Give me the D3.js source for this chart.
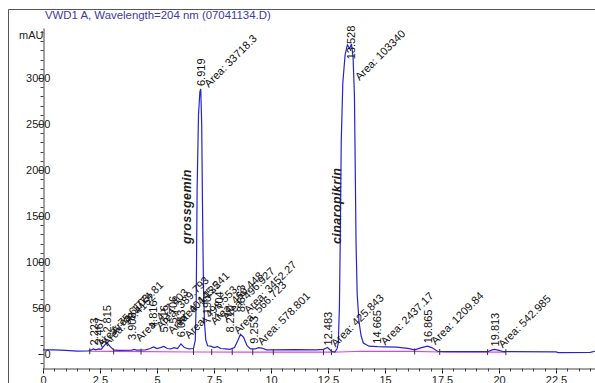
<!DOCTYPE html>
<html>
  <head>
    <meta charset='utf-8'>
    <script src="https://d3js.org/d3.v7.min.js"></script>
    <title>VWD1 A chromatogram</title>
    <style>
      body { margin: 0; background: #fff; }
      text { font-family: "Liberation Sans", Arial, sans-serif; }
    </style>
  </head>
  <body>
    <div id='chartDIV'></div>
    <script>

  // signal trace: time (min) / mAU
  var sigTime = [0, 0.5, 1.0, 1.5, 2.0, 2.15, 2.22, 2.3, 2.45, 2.55, 2.65, 2.8, 2.95, 3.1, 3.3, 3.9, 4.0, 4.1, 4.5, 4.7, 4.85, 5.0, 5.15, 5.3, 5.45, 5.6, 5.75, 5.9, 6.05, 6.2, 6.4, 6.6,
    6.68, 6.72, 6.76, 6.82, 6.88, 6.919, 6.96, 7.0, 7.04, 7.08, 7.14, 7.22, 7.35, 7.5, 7.65, 7.8, 8.0, 8.2, 8.4, 8.55, 8.66, 8.8, 8.95, 9.1, 9.3, 9.45, 9.6, 9.8, 10.0, 11.0, 12.0, 12.3, 12.48, 12.65, 12.8, 12.9,
    12.95, 13.0, 13.04, 13.08, 13.15, 13.25, 13.35, 13.45, 13.528, 13.6, 13.66, 13.7, 13.73, 13.78, 13.86, 13.95, 14.05, 14.3, 14.665, 15.0, 15.5, 16.0, 16.3, 16.6, 16.865, 17.05, 17.3, 17.6, 19.5, 19.7, 19.813, 20.0, 20.2, 22.5, 22.6, 24.0, 24.21];
  var sigValue = [45, 44, 40, 32, 35, 48, 55, 45, 55, 50, 80, 125, 80, 45, 40, 42, 50, 42, 45, 60, 78, 60, 70, 82, 60, 55, 70, 60, 110, 70, 55, 60,
    150, 600, 1800, 2600, 2850, 2880, 2500, 1500, 700, 350, 150, 90, 85, 70, 80, 60, 55, 50, 70, 150, 215, 180, 90, 55, 55, 70, 65, 45, 45, 48, 45, 50, 70, 30, 20, 60,
    120, 500, 1300, 2300, 2950, 3250, 3360, 3320, 3370, 3220, 2800, 1900, 1200, 650, 350, 200, 120, 85, 80, 78, 74, 62, 45, 70, 85, 70, 30, 25, 25, 45, 50, 40, 25, 24, 16, 18, 30];

  // integration baseline
  var baseTime = [2.05, 3.1, 6.6, 12.6, 13.0, 14.0, 16.3, 17.4, 20.3];
  var baseValue = [30, 28, 22, 20, 22, 30, 28, 22, 20];
  var baseMarks = [2.05, 3.1, 4.3, 6.6, 7.4, 8.3, 9.2, 10.1, 12.3, 12.65, 16.3, 17.4, 19.5, 20.3];

  // peak annotations
  var peakRT = [2.223, 2.467, 2.815, 3.908, 4.816, 5.316, 5.706, 6.053, 6.919, 7.190, 7.704, 8.210, 8.663, 9.253, 12.483, 13.528, 14.665, 16.865, 19.813];
  var peakArea = ["75.6103", "98.4152", "1774.81", "477.403", "389.793", "404.135", "145.241", "498.553", "33718.3", "460.448", "496.927", "566.723", "3452.27", "578.801", "425.843", "103340", "2437.17", "1209.84", "542.985"];
  var rtLevel = [60, 70, 200, 120, 250, 200, 300, 150, 2880, 300, 350, 200, 420, 80, 60, 3170, 80, 85, 50];
  var areaLevel = [60, 70, 200, 120, 250, 200, 300, 150, 2880, 300, 350, 200, 420, 80, 60, 2955, 80, 85, 50];

  var compoundName = ["grossgemin", "cinaropikrin"];
  var compoundRT = [6.919, 13.528];

  var yMajor = [0, 500, 1000, 1500, 2000, 2500, 3000];
  var xMajor = [0, 2.5, 5, 7.5, 10, 12.5, 15, 17.5, 20, 22.5];

  const W = 595, H = 383;

  var svg = d3.select("#chartDIV")
    .append("svg")
    .attr("width", W)
    .attr("height", H);

  var xScale = d3.scaleLinear()
    .domain([0, 24.21])
    .range([43, 595]);

  var yScale = d3.scaleLinear()
    .domain([-152, 3543])
    .range([368, 28]);

  // outer frame
  svg.append("path")
    .attr("d", "M8.5," + H + "V9.5H" + W)
    .attr("fill", "none")
    .attr("stroke", "#555");

  svg.append("text")
    .attr("x", 45)
    .attr("y", 19)
    .attr("font-size", 11.4)
    .attr("fill", "#3a3aa8")
    .text("VWD1 A, Wavelength=204 nm (07041134.D)");

  svg.append("text")
    .attr("x", 19)
    .attr("y", 39)
    .attr("font-size", 11)
    .attr("fill", "#222")
    .text("mAU");

  // y axis
  var yAxis = svg.append("g")
    .attr("transform", "translate(43.5,0)")
    .call(d3.axisLeft(yScale).tickValues(yMajor).tickFormat(d => d).tickSize(5).tickPadding(-12).tickSizeOuter(0));
  yAxis.select(".domain").attr("stroke", "#444");
  yAxis.selectAll("text").attr("font-size", 11).attr("fill", "#222").attr("font-family", "Liberation Sans, Arial, sans-serif");

  svg.append("g")
    .selectAll("line")
    .data(d3.range(-100, 3501, 100))
    .enter()
    .append("line")
    .attr("x1", 40.5).attr("x2", 43.5)
    .attr("y1", d => Math.round(yScale(d)) + 0.5)
    .attr("y2", d => Math.round(yScale(d)) + 0.5)
    .attr("stroke", "#444");

  // x axis
  var xAxis = svg.append("g")
    .attr("transform", "translate(0,368.5)")
    .call(d3.axisBottom(xScale).tickValues(xMajor).tickSize(5).tickFormat(d => d).tickSizeOuter(0));
  xAxis.select(".domain").attr("stroke", "#444");
  xAxis.selectAll("text").attr("font-size", 11).attr("fill", "#222").attr("font-family", "Liberation Sans, Arial, sans-serif");

  svg.append("g")
    .selectAll("line")
    .data(d3.range(0, 24.1, 0.5))
    .enter()
    .append("line")
    .attr("x1", d => Math.round(xScale(d)) + 0.5)
    .attr("x2", d => Math.round(xScale(d)) + 0.5)
    .attr("y1", 368.5).attr("y2", 371.5)
    .attr("stroke", "#444");

  // baseline (magenta)
  var basePts = baseTime.map((t, i) => [t, baseValue[i]]);
  svg.append("path")
    .datum(basePts)
    .attr("fill", "none")
    .attr("stroke", "#e040e0")
    .attr("stroke-width", 1.2)
    .attr("d", d3.line().x(d => xScale(d[0])).y(d => yScale(d[1])));

  // signal (blue)
  var sigPts = sigTime.map((t, i) => [t, sigValue[i]]);
  svg.append("path")
    .datum(sigPts)
    .attr("fill", "none")
    .attr("stroke", "#2525d0")
    .attr("stroke-width", 1.2)
    .attr("d", d3.line().x(d => xScale(d[0])).y(d => yScale(d[1])));

  var baseAt = d3.scaleLinear().domain(baseTime).range(baseValue);
  svg.append("g")
    .selectAll("line")
    .data(baseMarks)
    .enter()
    .append("line")
    .attr("x1", d => xScale(d)).attr("x2", d => xScale(d))
    .attr("y1", d => yScale(baseAt(d)) - 3)
    .attr("y2", d => yScale(baseAt(d)) + 3)
    .attr("stroke", "#333");

  // retention time labels
  svg.append("g")
    .selectAll("text")
    .data(peakRT)
    .enter()
    .append("text")
    .attr("transform", (d, i) => "translate(" + (xScale(d) + 4) + "," + (yScale(rtLevel[i]) - 3) + ") rotate(-90)")
    .attr("font-size", 11)
    .attr("fill", "#111")
    .text(d => d.toFixed(3));

  // area labels
  svg.append("g")
    .selectAll("text")
    .data(peakArea)
    .enter()
    .append("text")
    .attr("transform", (d, i) => "translate(" + (xScale(peakRT[i]) + 8) + "," + (yScale(areaLevel[i]) - 1) + ") rotate(-45)")
    .attr("font-size", 11)
    .attr("fill", "#111")
    .text(d => "Area: " + d);

  // compound names
  svg.append("g")
    .selectAll("text")
    .data(compoundName)
    .enter()
    .append("text")
    .attr("transform", (d, i) => "translate(" + (xScale(compoundRT[i]) - 10) + ",244) rotate(-90)")
    .attr("font-size", 12.5)
    .attr("font-weight", "bold")
    .attr("font-style", "italic")
    .attr("letter-spacing", 0.4)
    .attr("fill", "#222")
    .text(d => d);

    </script>
  </body>
</html>
